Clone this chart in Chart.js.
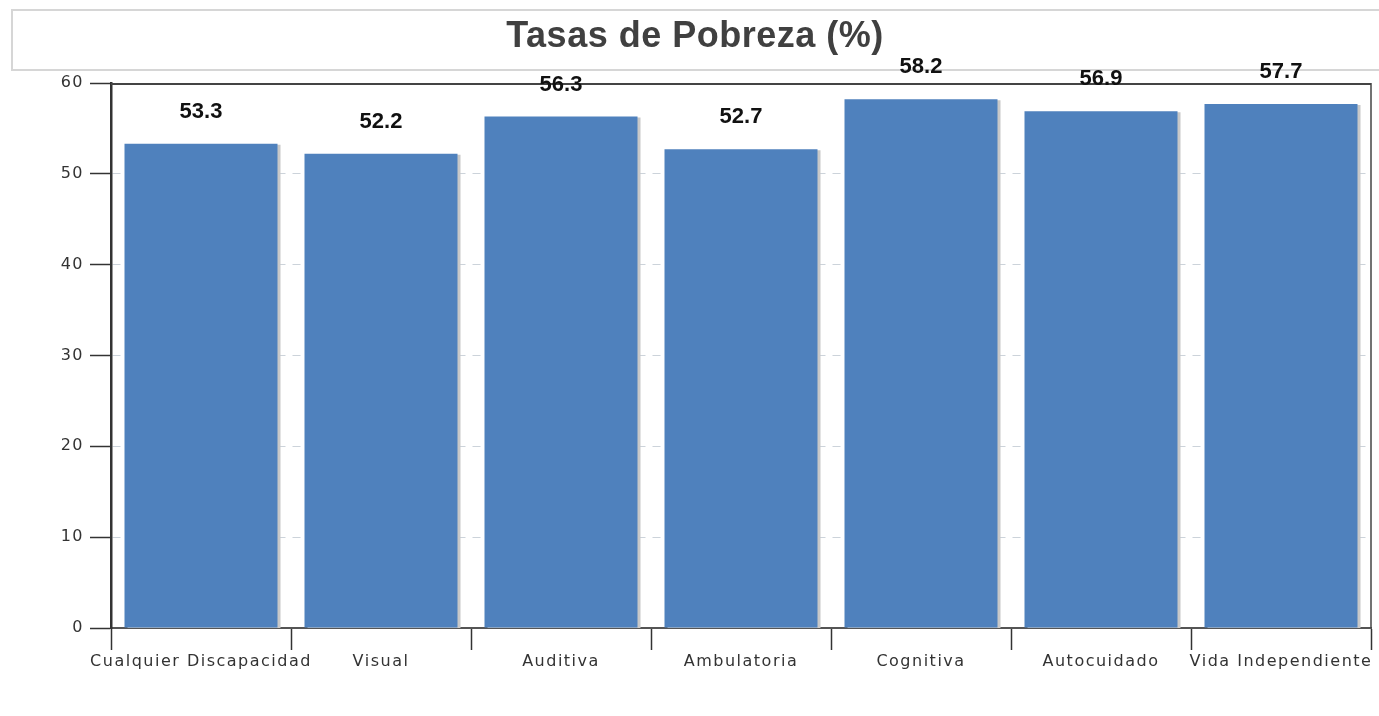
<!DOCTYPE html>
<html>
<head>
<meta charset="utf-8">
<title>Tasas de Pobreza (%)</title>
<script src="https://cdn.jsdelivr.net/npm/chart.js@4/dist/chart.umd.min.js"></script>
<style>
  html, body { margin: 0; padding: 0; background: #fff; }
  #wrap { width: 1379px; height: 716px; position: relative; }
</style>
</head>
<body>
<div id="wrap"><canvas id="povertyChart"></canvas></div>
<script>
// Data
const chartTitle = 'Tasas de Pobreza (%)';
const categories = ['Cualquier Discapacidad', 'Visual', 'Auditiva', 'Ambulatoria', 'Cognitiva', 'Autocuidado', 'Vida Independiente'];
const povertyRates = [53.3, 52.2, 56.3, 52.7, 58.2, 56.9, 57.7];
const yMin = 0;
const yMax = 60;
const yStep = 10;

// Title box, plot frame, bar shadow, value labels
const decorPlugin = {
    id: 'decor',
    beforeDraw(chart) {
        const ctx = chart.ctx;
        ctx.save();
        ctx.strokeStyle = '#d6d6d6';
        ctx.lineWidth = 2;
        ctx.strokeRect(12, 10, 1380, 60);
        ctx.letterSpacing = '0.5px';
        ctx.font = 'bold 36px "Liberation Sans", Arial, sans-serif';
        ctx.fillStyle = '#404040';
        ctx.textAlign = 'center';
        ctx.textBaseline = 'middle';
        ctx.fillText(chartTitle, 695, 37);
        ctx.restore();
        // spaced-out lettering for the axis labels
        ctx.letterSpacing = '1.5px';
    },
    beforeDatasetsDraw(chart) {
        const ctx = chart.ctx;
        const a = chart.chartArea;
        ctx.save();
        ctx.strokeStyle = '#444';
        ctx.lineWidth = 2;
        ctx.beginPath();
        ctx.moveTo(a.left, a.top + 1);
        ctx.lineTo(a.right, a.top + 1);
        ctx.stroke();
        ctx.lineWidth = 1.5;
        ctx.beginPath();
        ctx.moveTo(a.right, a.top);
        ctx.lineTo(a.right, a.bottom);
        ctx.stroke();
        ctx.restore();

        ctx.shadowColor = '#c8c8c8';
        ctx.shadowOffsetX = 3;
        ctx.shadowOffsetY = 1;
        ctx.shadowBlur = 0;
    },
    afterDatasetsDraw(chart) {
        const ctx = chart.ctx;
        ctx.shadowColor = 'rgba(0,0,0,0)';
        ctx.shadowOffsetX = 0;
        ctx.shadowOffsetY = 0;
        ctx.letterSpacing = '0px';

        const meta = chart.getDatasetMeta(0);
        ctx.save();
        ctx.font = 'bold 22px "Liberation Sans Narrow", "Liberation Sans", Arial, sans-serif';
        ctx.fillStyle = '#111';
        ctx.textAlign = 'center';
        ctx.textBaseline = 'middle';
        meta.data.forEach((bar, i) => {
            ctx.fillText(povertyRates[i].toFixed(1), bar.x, bar.y - 32);
        });
        ctx.restore();
    }
};

const ctx = document.getElementById('povertyChart').getContext('2d');
new Chart(ctx, {
    type: 'bar',
    data: {
        labels: categories,
        datasets: [{
            label: chartTitle,
            data: povertyRates,
            backgroundColor: '#4f81bd',
            borderWidth: 0,
            categoryPercentage: 1.0,
            barPercentage: 0.85
        }]
    },
    options: {
        responsive: true,
        maintainAspectRatio: false,
        animation: false,
        layout: {
            padding: { top: 83, right: 8, bottom: 0, left: 0 }
        },
        plugins: {
            legend: { display: false },
            tooltip: { enabled: false },
            title: { display: false }
        },
        scales: {
            x: {
                afterFit(scale) { scale.height = 88; },
                grid: {
                    offset: true,
                    drawOnChartArea: false,
                    drawTicks: true,
                    tickLength: 22,
                    tickColor: '#333',
                    tickWidth: 1.5
                },
                border: { color: '#555', width: 2 },
                ticks: {
                    autoSkip: false,
                    maxRotation: 0,
                    minRotation: 0,
                    padding: 2,
                    color: '#333',
                    font: { family: '"DejaVu Sans", Verdana, sans-serif', size: 16 }
                }
            },
            y: {
                min: yMin,
                max: yMax,
                afterFit(scale) { scale.width = 111; },
                grid: {
                    color: '#ccd3da',
                    lineWidth: 1,
                    tickLength: 21,
                    tickColor: '#333',
                    tickWidth: 1.5
                },
                border: { color: '#333', width: 2.5, dash: [8, 7] },
                ticks: {
                    stepSize: yStep,
                    padding: 6,
                    color: '#333',
                    font: { family: '"DejaVu Sans", Verdana, sans-serif', size: 16 }
                }
            }
        }
    },
    plugins: [decorPlugin]
});
</script>
</body>
</html>
